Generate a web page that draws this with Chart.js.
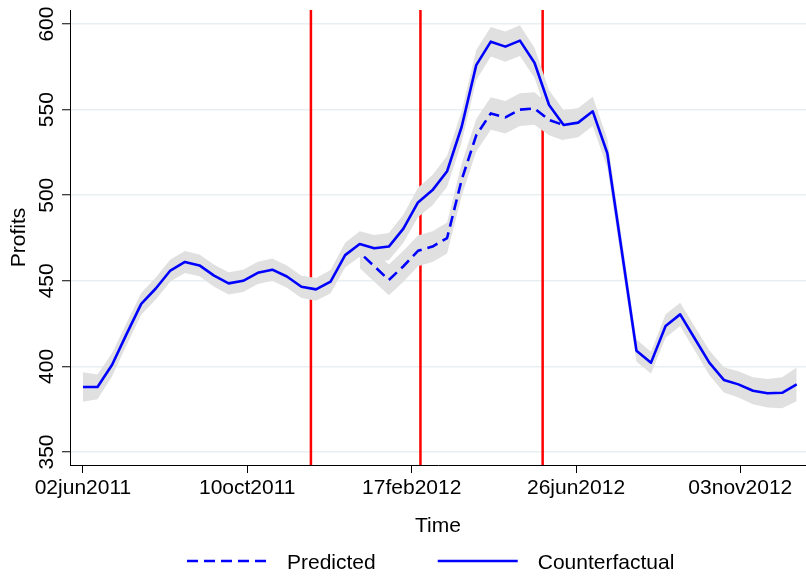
<!DOCTYPE html>
<html>
<head>
<meta charset="utf-8">
<title>Profits: predicted vs counterfactual</title>
<script src="https://cdn.jsdelivr.net/npm/chart.js@4.4.1/dist/chart.umd.min.js"></script>
<style>
    html, body { margin: 0; padding: 0; background: #ffffff; }
</style>
</head>
<body>
<canvas id="profitChart" width="806" height="577"></canvas>
<script>
    'use strict';

    // Observations are evenly spaced; x is the observation number (0..49)
    var counterfactual = [
        388, 388, 401, 419, 436.5, 445.5, 456, 461, 459, 453,
        448.5, 450, 454.7, 456.5, 452.5, 446.5, 445, 449.5, 465, 471.5,
        469, 470, 480.5, 495.8, 503, 514, 540, 576, 589.7, 586.8,
        590.3, 577.4, 552.7, 541, 542.4, 549, 524.5, 467, 409.2, 402.2,
        423.6, 430.4, 416.3, 402.2, 392.1, 389.5, 385.8, 384.3, 384.6, 389.5
    ];

    // Predicted only differs from the counterfactual between the events
    var predicted = [
        null, null, null, null, null, null, null, null, null, null,
        null, null, null, null, null, null, null, null, null, 466.5,
        458.5, 450.5, 458.5, 467.5, 470, 475, 509, 535, 547.8, 545.5,
        550, 550.7, 544, 541, null, null, null, null, null, null,
        null, null, null, null, null, null, null, null, null, null
    ];

    // Half width of the confidence band (profit units)
    var ciCounterfactual = [
        8.6, 7.2, 6.8, 6.5, 6.4, 6.4, 6.4, 6.4, 6.4, 6.4,
        6.5, 6.5, 6.5, 6.5, 6.5, 6.5, 6.6, 6.8, 7.2, 7.5,
        7.8, 8, 8.3, 8.6, 8.8, 9, 9, 8.8, 8.6, 8.8,
        9, 8.8, 8.6, 8.6, 8.5, 8.5, 8.4, 7.5, 6.5, 6.3,
        6.8, 6.8, 7, 7.2, 7.4, 7.6, 7.9, 8.3, 9, 9.8
    ];

    var ciPredicted = [
        null, null, null, null, null, null, null, null, null, null,
        null, null, null, null, null, null, null, null, null, 9,
        9, 9, 9, 9, 9, 9, 9.5, 9.5, 9.5, 9.5,
        9.5, 9.5, 9, 9, null, null, null, null, null, null,
        null, null, null, null, null, null, null, null, null, null
    ];

    var xTickAt = [0, 11.28, 22.57, 33.85, 45.13];
    var xTickLabels = ['02jun2011', '10oct2011', '17feb2012', '26jun2012', '03nov2012'];
    var yTicks = [350, 400, 450, 500, 550, 600];
    var eventAt = [15.65, 23.17, 31.56];

    var X_MIN = -0.89, X_MAX = 49.64;
    var Y_MIN = 342.4, Y_MAX = 608.2;

    var FONT = '"Liberation Sans", Arial, Helvetica, sans-serif';
    var BLUE = '#0000ff';
    var BAND = '#e0e0e0';

    Chart.defaults.font.family = FONT;
    Chart.defaults.font.size = 21;
    Chart.defaults.color = '#000000';

    function toPoints(values) {
        return values.map(function(v, i) {
            return { x: i, y: v };
        });
    }

    function shifted(values, ci, sign) {
        return values.map(function(v, i) {
            if (v === null || ci[i] === null) {
                return null;
            }
            return v + sign * ci[i];
        });
    }

    function bandPair(values, ci) {
        return [
            {
                label: 'low',
                data: toPoints(shifted(values, ci, -1)),
                borderWidth: 0,
                pointRadius: 0,
                fill: false,
                order: 1
            },
            {
                label: 'high',
                data: toPoints(shifted(values, ci, 1)),
                borderWidth: 0,
                pointRadius: 0,
                backgroundColor: BAND,
                fill: '-1',
                order: 1
            }
        ];
    }

    var datasets = [
        {
            label: 'Predicted',
            data: toPoints(predicted),
            borderColor: BLUE,
            borderWidth: 2.6,
            borderDash: [11, 6],
            borderDashOffset: 11,
            borderJoinStyle: 'round',
            pointRadius: 0,
            fill: false,
            order: 0
        },
        {
            label: 'Counterfactual',
            data: toPoints(counterfactual),
            borderColor: BLUE,
            borderWidth: 2.6,
            borderJoinStyle: 'round',
            pointRadius: 0,
            fill: false,
            order: 0
        }
    ];

    datasets = datasets.concat(bandPair(counterfactual, ciCounterfactual));
    datasets = datasets.concat(bandPair(predicted, ciPredicted));

    // Vertical event markers
    eventAt.forEach(function(x) {
        datasets.push({
            label: 'event',
            data: [{ x: x, y: Y_MIN }, { x: x, y: Y_MAX }],
            borderColor: '#ff0000',
            borderWidth: 2.5,
            pointRadius: 0,
            fill: false,
            order: 2
        });
    });

    // Y tick labels are drawn rotated, reading bottom to top
    var yLabelPlugin = {
        id: 'yLabels',
        afterDraw: function(chart) {
            var scale = chart.scales.y;
            var ctx = chart.ctx;
            ctx.save();
            ctx.font = '21px ' + FONT;
            ctx.fillStyle = '#000000';
            ctx.textAlign = 'center';
            ctx.textBaseline = 'alphabetic';
            scale.ticks.forEach(function(t) {
                var y = scale.getPixelForValue(t.value);
                ctx.save();
                ctx.translate(52.5, y);
                ctx.rotate(-Math.PI / 2);
                ctx.fillText(String(t.value), 0, 0);
                ctx.restore();
            });
            ctx.restore();
        }
    };

    // Legend below the axis title: long line sample, then the label
    var legendPlugin = {
        id: 'lineLegend',
        afterDraw: function(chart) {
            var ctx = chart.ctx;
            var x = 187;
            var y = 561;
            ctx.save();
            ctx.font = '21px ' + FONT;
            ctx.textBaseline = 'alphabetic';
            ctx.textAlign = 'left';
            [0, 1].forEach(function(idx) {
                var ds = chart.data.datasets[idx];
                ctx.strokeStyle = ds.borderColor;
                ctx.lineWidth = ds.borderWidth;
                ctx.setLineDash(ds.borderDash || []);
                ctx.beginPath();
                ctx.moveTo(x, y);
                ctx.lineTo(x + 80, y);
                ctx.stroke();
                ctx.fillStyle = '#000000';
                ctx.fillText(ds.label, x + 100, y + 7.5);
                x += 100 + ctx.measureText(ds.label).width + 62;
            });
            ctx.restore();
        }
    };

    var ctx = document.getElementById('profitChart').getContext('2d');

    new Chart(ctx, {
        type: 'line',
        data: { datasets: datasets },
        options: {
            responsive: false,
            devicePixelRatio: 1,
            animation: false,
            layout: {
                padding: { top: 10, right: 0, bottom: 37, left: 0 }
            },
            plugins: {
                legend: { display: false },
                tooltip: { enabled: false }
            },
            scales: {
                x: {
                    type: 'linear',
                    min: X_MIN,
                    max: X_MAX,
                    afterBuildTicks: function(scale) {
                        scale.ticks = xTickAt.map(function(v) { return { value: v }; });
                    },
                    afterFit: function(scale) {
                        scale.height = 75;
                    },
                    ticks: {
                        autoSkip: false,
                        maxRotation: 0,
                        padding: 3,
                        color: '#000000',
                        callback: function(value, index) {
                            return xTickLabels[index];
                        }
                    },
                    grid: {
                        drawOnChartArea: false,
                        tickLength: 8,
                        tickColor: '#000000',
                        tickWidth: 1
                    },
                    border: { color: '#000000', width: 1 },
                    title: {
                        display: true,
                        text: 'Time',
                        color: '#000000',
                        padding: { top: 0, bottom: 1.5 }
                    }
                },
                y: {
                    type: 'linear',
                    min: Y_MIN,
                    max: Y_MAX,
                    afterBuildTicks: function(scale) {
                        scale.ticks = yTicks.map(function(v) { return { value: v }; });
                    },
                    afterFit: function(scale) {
                        scale.width = 70;
                    },
                    ticks: { display: false },
                    grid: {
                        color: '#e8eff2',
                        lineWidth: 1.5,
                        tickLength: 8,
                        tickColor: '#000000',
                        tickWidth: 1
                    },
                    border: { color: '#000000', width: 1 },
                    title: {
                        display: true,
                        text: 'Profits',
                        color: '#000000',
                        padding: { top: 7, bottom: 0 }
                    }
                }
            }
        },
        plugins: [yLabelPlugin, legendPlugin]
    });
</script>
</body>
</html>
